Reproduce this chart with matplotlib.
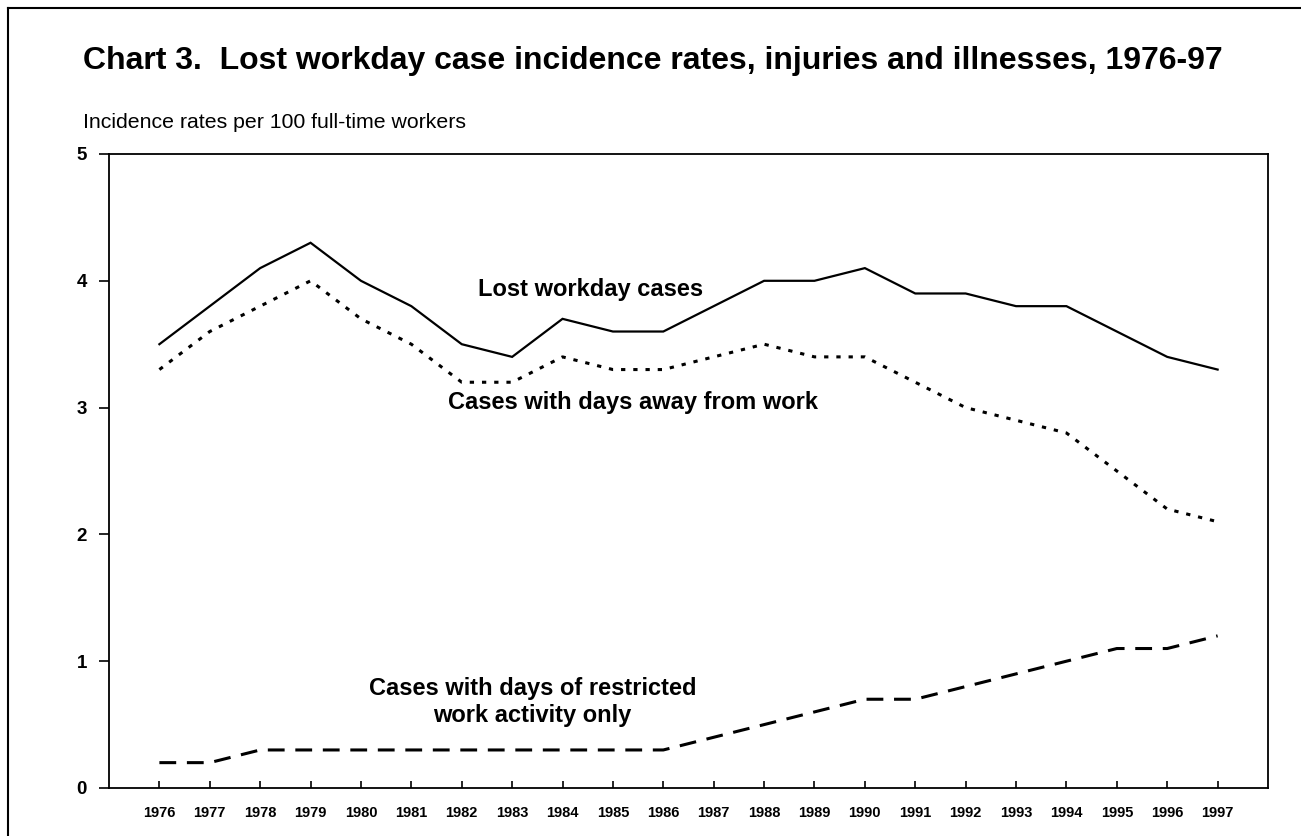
import matplotlib
matplotlib.use("Agg")
import matplotlib.pyplot as plt
from matplotlib.lines import Line2D

plt.rcParams['font.family'] = ['Liberation Sans', 'DejaVu Sans']

# data
years = list(range(1976, 1998))
lost_workday = [3.5, 3.8, 4.1, 4.3, 4.0, 3.8, 3.5, 3.4, 3.7, 3.6, 3.6,
                3.8, 4.0, 4.0, 4.1, 3.9, 3.9, 3.8, 3.8, 3.6, 3.4, 3.3]
days_away = [3.3, 3.6, 3.8, 4.0, 3.7, 3.5, 3.2, 3.2, 3.4, 3.3, 3.3,
             3.4, 3.5, 3.4, 3.4, 3.2, 3.0, 2.9, 2.8, 2.5, 2.2, 2.1]
restricted = [0.2, 0.2, 0.3, 0.3, 0.3, 0.3, 0.3, 0.3, 0.3, 0.3, 0.3,
              0.4, 0.5, 0.6, 0.7, 0.7, 0.8, 0.9, 1.0, 1.1, 1.1, 1.2]
y_ticks = [0, 1, 2, 3, 4, 5]

W, H = 1301, 836
fig = plt.figure(figsize=(W / 100, H / 100), dpi=100)
ax = fig.add_axes([109 / W, 1 - 788 / H, (1268 - 109) / W, (788 - 154) / H])

ax.plot(years, lost_workday, color='black', lw=1.6, solid_joinstyle='miter')
ax.plot(years, days_away, color='black', lw=2.2, linestyle=(0, (1.4, 2.6)))
ax.plot(years, restricted, color='black', lw=2.2, linestyle=(0, (5.5, 3.5)))

ax.set_xlim(1975, 1998)
ax.set_ylim(0, 5)
ax.set_xticks(years)
ax.set_xticklabels([str(y) for y in years], fontsize=10.5, fontweight='bold')
ax.set_yticks(y_ticks)
ax.set_yticklabels([str(v) for v in y_ticks], fontsize=13.5, fontweight='bold')
ax.tick_params(axis='x', direction='in', length=5, width=1.2, pad=13)
ax.tick_params(axis='y', direction='out', length=7, width=1.2, pad=9)
for s in ax.spines.values():
    s.set_linewidth(1.3)

# series labels
ax.text(1984.55, 3.93, 'Lost workday cases', fontsize=17, fontweight='bold',
        ha='center', va='center')
ax.text(1985.4, 3.04, 'Cases with days away from work', fontsize=17,
        fontweight='bold', ha='center', va='center')
ax.text(1983.4, 0.68, 'Cases with days of restricted\nwork activity only',
        fontsize=17, fontweight='bold', ha='center', va='center',
        linespacing=1.2)

fig.text(83 / W, 1 - 61 / H,
         'Chart 3.  Lost workday case incidence rates, injuries and illnesses, 1976-97',
         fontsize=23, fontweight='bold', ha='left', va='center')
fig.text(83 / W, 1 - 122 / H, 'Incidence rates per 100 full-time workers',
         fontsize=15.3, ha='left', va='center')

# outer frame
fig.add_artist(Line2D([7.5 / W, 7.5 / W], [0, 1 - 7.5 / H], color='black', lw=1.5,
                      transform=fig.transFigure))
fig.add_artist(Line2D([7.5 / W, 1], [1 - 7.5 / H, 1 - 7.5 / H], color='black', lw=1.5,
                      transform=fig.transFigure))

fig.savefig('out.png', dpi=100)
